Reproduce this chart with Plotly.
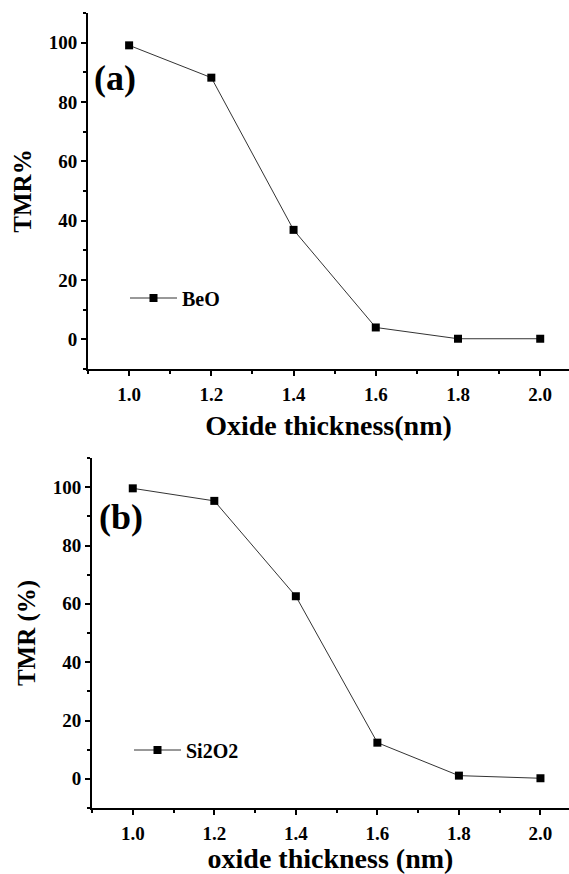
import plotly.graph_objects as go

# ---- data ----
thickness = [1.0, 1.2, 1.4, 1.6, 1.8, 2.0]
tmr_beo = [99.1, 88.2, 36.9, 4.0, 0.2, 0.2]
tmr_si2o2 = [99.6, 95.3, 62.6, 12.4, 1.1, 0.2]
x_tick_vals = [1.0, 1.2, 1.4, 1.6, 1.8, 2.0]
x_tick_text = ["1.0", "1.2", "1.4", "1.6", "1.8", "2.0"]
y_tick_vals = [0, 20, 40, 60, 80, 100]
y_tick_text = ["0", "20", "40", "60", "80", "100"]

W, H = 569, 874
FONT = "Liberation Serif, Times New Roman, serif"


def px_x(p):
    return p / W


def px_y(p):
    return 1 - p / H


fig = go.Figure()

fig.add_trace(go.Scatter(
    x=thickness, y=tmr_beo, name="<b>BeO</b>", mode="lines+markers",
    line=dict(color="#333333", width=1),
    marker=dict(symbol="square", size=8, color="black"),
    xaxis="x", yaxis="y", legend="legend", showlegend=True,
))
fig.add_trace(go.Scatter(
    x=thickness, y=tmr_si2o2, name="<b>Si2O2</b>", mode="lines+markers",
    line=dict(color="#333333", width=1),
    marker=dict(symbol="square", size=8, color="black"),
    xaxis="x2", yaxis="y2", legend="legend2", showlegend=True,
))

tickfont = dict(family=FONT, size=19, color="black", weight="bold")
titlefont = dict(family=FONT, size=28, color="black", weight="bold")
ytitlefont = dict(family=FONT, size=25, color="black", weight="bold")
legfont = dict(family=FONT, size=20, color="black")

common_x = dict(
    range=[0.9, 2.07], tickvals=x_tick_vals, ticktext=x_tick_text,
    ticks="outside", ticklen=5, tickwidth=1.5, tickcolor="black",
    minor=dict(dtick=0.1, tick0=0.9, ticks="outside", ticklen=3, tickwidth=1.5, tickcolor="black"),
    showline=True, linecolor="black", linewidth=2, showgrid=False, zeroline=False,
    tickfont=tickfont, automargin=False, ticklabelstandoff=2,
)
common_y = dict(
    range=[-10, 110], tickvals=y_tick_vals, ticktext=y_tick_text,
    ticks="outside", ticklen=5, tickwidth=1.5, tickcolor="black",
    minor=dict(dtick=10, tick0=-10, ticks="outside", ticklen=3, tickwidth=1.5, tickcolor="black"),
    showline=True, linecolor="black", linewidth=2, showgrid=False, zeroline=False,
    tickfont=tickfont, automargin=False,
)

fig.update_layout(
    width=W, height=H,
    margin=dict(l=0, r=0, t=0, b=0),
    paper_bgcolor="white", plot_bgcolor="white",
    showlegend=True,
    xaxis=dict(common_x, domain=[px_x(88), 1], anchor="y",
               title=dict(text="Oxide thickness(nm)", font=titlefont, standoff=12)),
    yaxis=dict(common_y, domain=[px_y(369), px_y(13)], anchor="x",
               title=dict(text="TMR%", font=ytitlefont, standoff=10)),
    xaxis2=dict(common_x, domain=[px_x(92), 1], anchor="y2",
                title=dict(text="oxide thickness (nm)", font=titlefont, standoff=12)),
    yaxis2=dict(common_y, domain=[px_y(808), px_y(458)], anchor="x2",
                title=dict(text="TMR (%)", font=ytitlefont, standoff=10)),
    legend=dict(x=px_x(125), y=px_y(298), xanchor="left", yanchor="middle", itemwidth=47,
                bgcolor="rgba(0,0,0,0)", font=legfont, visible=True),
    legend2=dict(x=px_x(129), y=px_y(750), xanchor="left", yanchor="middle", itemwidth=47,
                 bgcolor="rgba(0,0,0,0)", font=legfont, visible=True),
    annotations=[
        dict(text="(a)", x=px_x(115), y=px_y(78), xref="paper", yref="paper",
             xanchor="center", yanchor="middle",
             showarrow=False, font=dict(family=FONT, size=36, color="black", weight="bold")),
        dict(text="(b)", x=px_x(121), y=px_y(517), xref="paper", yref="paper",
             xanchor="center", yanchor="middle",
             showarrow=False, font=dict(family=FONT, size=36, color="black", weight="bold")),
    ],
)

fig.write_html("out.html")
